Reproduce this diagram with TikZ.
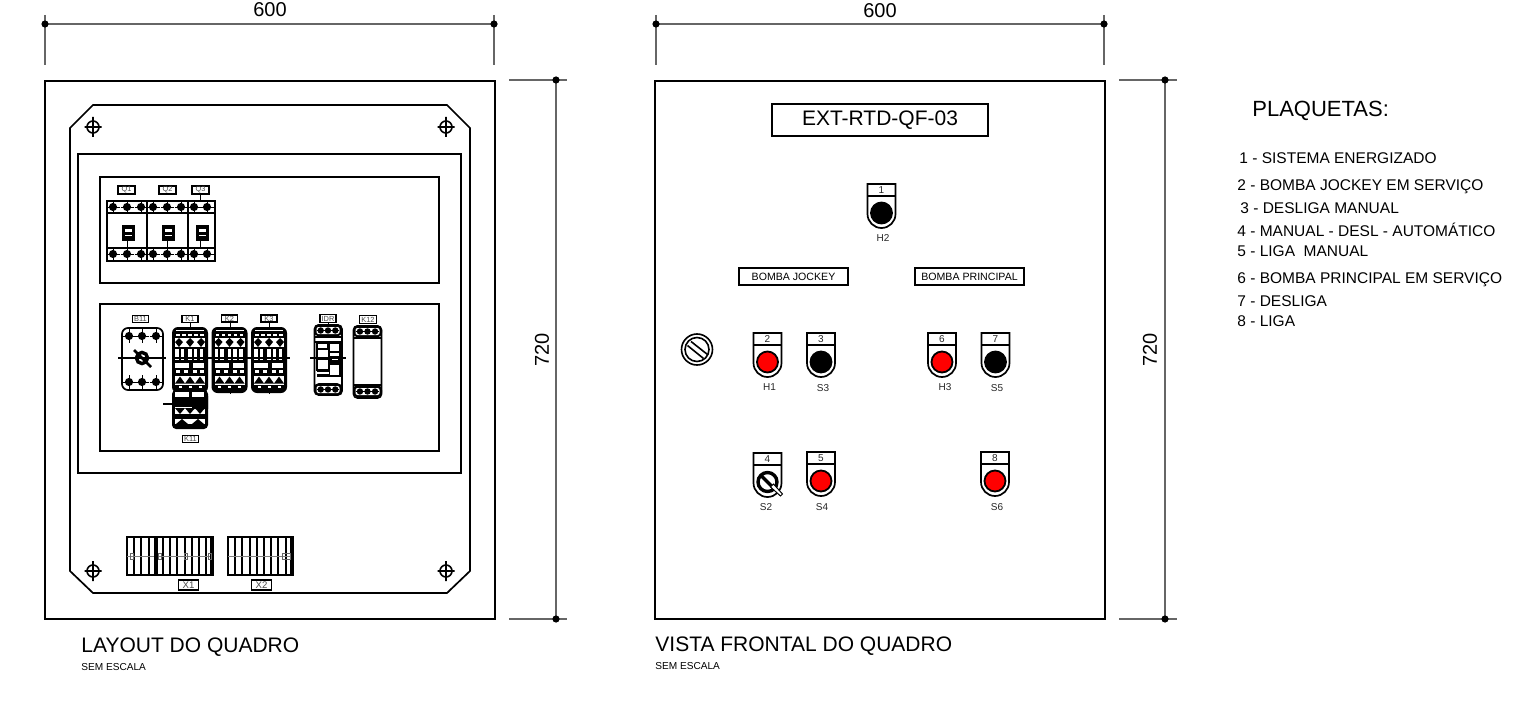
\documentclass[tikz,border=0pt]{standalone}
\usepackage{fontspec}
\setmainfont{Liberation Sans}
\newcommand{\fsz}[1]{\fontsize{#1}{#1}\selectfont}
\tikzset{
  frameline/.style={line width=0.85pt,draw=black},
  thinline/.style={line width=0.55pt,draw=black},
  dimline/.style={line width=0.55pt,draw=black!60},
  dimdot/.style={circle,fill=black,inner sep=0pt,minimum size=3.6pt},
  dimtext/.style={font=\fsz{10},inner sep=0pt},
  tagbox/.style={draw=black,line width=0.7pt,fill=white,inner sep=0pt,font=\fsz{3.7},text=black!70},
  listtext/.style={anchor=west,inner sep=0pt,font=\fsz{7.75}},
  captext/.style={anchor=west,inner sep=0pt,font=\fsz{10.5}},
  smalltext/.style={anchor=west,inner sep=0pt,font=\fsz{5.05}},
  pilottext/.style={inner sep=0pt,font=\fsz{5},text=black!85}
}
% terminal mark
\newcommand{\termmark}[2]{%
  \fill (#1,#2) circle (4.1);
  \draw[line width=0.4pt] (#1,#2-7)--(#1,#2+7) (#1-6.5,#2)--(#1+6.5,#2);}
% pushbutton / lamp: name, centre x, top y, number, kind
\newcommand{\pilotlamp}[5]{%
  \begin{scope}[shift={(#2,#3)}]
  \draw[frameline,fill=white] (-14,0)--(14,0)--(14,30) arc[start angle=0,end angle=180,radius=14]--cycle;
  \draw[thinline,line width=0.8pt] (-14,12)--(14,12);
  \node[pilottext] (#1) at (0,6) {#4};
  \ifx#5r\relax
    \filldraw[draw=black,line width=0.9pt,fill=red] (0,29) circle (10.5);
  \else\ifx#5k\relax
    \filldraw[draw=black,line width=0.9pt,fill=black] (0,29) circle (10.5);
  \else
    \draw[line width=1.7pt] (0,29) circle (9.5);
    \draw[line width=1.6pt] (-7,22)--(6,35);
    \draw[line width=0.5pt,fill=white] (3,34)--(13,43)--(15,41)--(6,31)--cycle;
  \fi\fi
  \end{scope}}
% contactor body
\newcommand{\contactor}[2]{%
  \begin{scope}[shift={(#1,#2)}]
  \fill[rounded corners=3] (0,0) rectangle (36,66);
  \fill[white] (4,2.5) rectangle (32,3.8);
  \foreach \u in {4,10,16,22,28}{ \fill[white] (\u,7) rectangle ++(3.5,1.6); }
  \fill[white] (3,11) rectangle (33,20);
  \foreach \u in {7,18,29}{
    \fill (\u,11) -- ++(4,4) -- ++(-4,5) -- ++(-4,-5) -- cycle;
  }
  \foreach \u in {3,8.5,16,21.5,27.5}{ \fill[white] (\u,22) rectangle ++(3.8,11); }
  \fill[white] (3,36) rectangle (17,40.5);
  \fill[white] (21,36) rectangle (32,40.5);
  \foreach \u in {4,12,21,28}{ \fill[white] (\u,43) rectangle ++(4,3); }
  \fill[white] (3,49) rectangle (33,57.5);
  \foreach \u in {8,18,28}{
    \fill (\u,49.5) -- ++(5,7) -- ++(-10,0) -- cycle;
  }
  \foreach \u in {8,18,28}{ \fill[white] (\u-1.5,59) rectangle ++(3,1.5); }
  \end{scope}}
% DIN-rail module head
\newcommand{\railhead}[3]{%
  \begin{scope}[shift={(#1,#2)}]
  \fill[rounded corners=2.5] (0,0) rectangle (#3,12.5);
  \fill[white,rounded corners=1] (2.5,3) rectangle (#3-2.5,10);
  \foreach \u in {0.24,0.5,0.76}{ \fill (\u*#3,6.5) circle (3.2); }
  \draw[line width=0.3pt] (3,6.5)--(#3-3,6.5);
  \end{scope}}
\begin{document}
\begin{tikzpicture}[x=0.5pt,y=-0.5pt]
\useasboundingbox (0,0) rectangle (1531,701);
% ---------- left panel
\draw[frameline] (45,81) rectangle (495,619);
\draw[frameline] (70,128)--(93,105)--(447,105)--(470,128)--(470,571)--(447,593)--(93,593)--(70,571)--cycle;
\draw[frameline] (78,154) rectangle (461,473);
\draw[frameline] (100,177) rectangle (439,283);
\draw[frameline] (100,304) rectangle (439,451);
\foreach \px/\py in {93/127,446/127,93/571,446/571}{
  \begin{scope}[shift={(\px,\py)}]
  \draw[line width=0.8pt] (0,0) circle (6) (-8.5,0)--(8.5,0) (0,-10)--(0,10);
  \end{scope}}
% breakers
\draw[thinline,line width=0.8pt] (107,201) rectangle (215,261);
\draw[thinline,line width=0.8pt] (147,201)--(147,261) (188,201)--(188,261);
\draw[thinline,line width=1.1pt] (107,213)--(215,213) (107,248)--(215,248);
\foreach \u in {113,127,141,153,167,181,194,207}{\termmark{\u}{207}\termmark{\u}{254}}
\foreach \u/\w in {128/127,168/167,202/200}{
  \fill (\u-6.5,225) rectangle (\u+6.5,241);
  \fill[white] (\u-3.5,228.5) rectangle (\u+3.5,231.5);
  \fill[white] (\u-3.5,234.5) rectangle (\u+3.5,236);
  \draw[line width=0.4pt] (\w,241)--(\w,247);}
\node[tagbox,minimum width=8.5pt,minimum height=4pt] (q1) at (126.5,190) {Q1};
\node[tagbox,minimum width=8.5pt,minimum height=4pt] (q2) at (167.5,190) {Q2};
\node[tagbox,minimum width=8.5pt,minimum height=4pt] (q3) at (200.5,190) {Q3};
\draw[line width=0.35pt] (q3)--(200.5,201);
% rotary isolator B11
\draw[frameline,rounded corners=3] (122,328) rectangle (163,390);
\foreach \u in {129,142,156}{\termmark{\u}{336}\termmark{\u}{382}}
\draw[thinline,line width=0.7pt] (118,358)--(166,358);
\draw[line width=1.7pt] (142,358) circle (5.6);
\draw[line width=1.4pt] (134,350)--(151,367);
\node[tagbox,minimum width=8pt,minimum height=3.6pt] (b11) at (140.5,319) {B11};
% contactors
\contactor{172}{327}
\contactor{211.5}{327}
\contactor{251}{327}
\begin{scope}[shift={(172,393)}]
  \fill[rounded corners=2] (0,-3) rectangle (36,36);
  \fill[white] (3,-1.5) rectangle (17,4);
  \fill[white] (20,-1.5) rectangle (32,4);
  \fill[white] (3,14) rectangle (33,21);
  \foreach \u in {8,18,28}{
    \fill (\u,21) -- ++(5,-6) -- ++(-10,0) -- cycle;}
  \fill[white] (3,26) rectangle (33,31);
  \foreach \u in {10,26}{\fill (\u,26) -- ++(6,5) -- ++(-12,0) -- cycle;}
\end{scope}
\draw[line width=0.75pt] (172,358)--(290,358);
\draw[line width=1.1pt] (163,404)--(208,404);
\fill (192,404) -- (200,398) -- (208,396) -- (208,409) -- (192,409) -- cycle;
\foreach \u in {190,230,269}{\draw[line width=0.4pt] (\u,322)--(\u,330) (\u,390)--(\u,394);}
\node[tagbox,minimum width=8pt,minimum height=3.6pt] (k1) at (190,319) {K1};
\node[tagbox,minimum width=8pt,minimum height=3.6pt] (k2) at (229.5,318.5) {K2};
\node[tagbox,minimum width=8pt,minimum height=3.6pt] (k3) at (269,318.5) {K3};
\node[tagbox,minimum width=8pt,minimum height=3.6pt] (k11) at (190.5,439) {K11};
% IDR
\draw[frameline,line width=0.8pt,rounded corners=2] (314.5,325) rectangle (342,395);
\railhead{314}{324}{28}
\railhead{314}{383}{28}
\draw[thinline] (315,337)--(341,337);
\draw[line width=0.8pt] (315,342)--(341,342);
\draw[line width=0.6pt] (317,343) rectangle (328,349) (317,349) rectangle (329,359);
\draw[line width=0.7pt] (329,343) rectangle (340,352) (329,352) rectangle (340,364) (329,364) rectangle (340,376);
\fill (330,356) rectangle (340,364);
\fill[white] (332,358) rectangle (338,360);
\draw[line width=0.6pt] (317,359) rectangle (329,370);
\fill (317,370) rectangle (329,377);
\fill[white] (317,372) rectangle (329,373.5);
\draw[line width=0.6pt] (310,358)--(346,358);
\node[tagbox,minimum width=8pt,minimum height=3.8pt] (idr) at (328,318.5) {IDR};
\draw[line width=0.35pt] (idr)--(328,325);
% K12
\draw[frameline,rounded corners=2] (353.5,326) rectangle (381.5,398);
\railhead{353}{325}{29}
\railhead{353}{385}{29}
\draw[line width=0.8pt] (353.5,338)--(381.5,338) (353.5,385)--(381.5,385);
\node[tagbox,minimum width=8.5pt,minimum height=3.8pt] (k12) at (368,319.5) {K12};
% terminal blocks
\foreach \n/\xs in {12/127,9/228}{
  \foreach \i in {0,...,\n}{
    \draw[line width=1pt] ({\xs+\i*7.2},537)--({\xs+\i*7.2},575);
  }
  \draw[line width=1pt] (\xs,537) rectangle ({\xs+\n*7.2},575);
  \draw[line width=0.3pt,draw=black!50] (\xs,556)--({\xs+\n*7.2},556);
}
\draw[line width=1.7pt] (156,537)--(156,575) (212,537)--(212,575);
\draw[line width=1.7pt] (292,537)--(292,575);
\draw[line width=0.4pt,draw=black!60] (130,553) rectangle (133,559) (158,553) rectangle (161,559) (184,553) rectangle (187,559) (208,553) rectangle (211,559) (282,553) rectangle (290,559);
\node[tagbox,minimum width=9.8pt,minimum height=5pt,font=\fsz{4.8}] (x1) at (188.5,585) {X1};
\node[tagbox,minimum width=9.8pt,minimum height=5pt,font=\fsz{4.8}] (x2) at (261.5,585) {X2};
% ---------- right panel
\draw[frameline] (655,81) rectangle (1105,619);
\node[draw=black,line width=0.9pt,minimum width=108pt,minimum height=16pt,inner sep=0pt,font=\fsz{10.5}] (title) at (880,120) {EXT-RTD-QF-03};
\pilotlamp{n1}{881.5}{184}{1}{k}
\pilotlamp{n2}{767.5}{333}{2}{r}
\pilotlamp{n3}{821}{333}{3}{k}
\pilotlamp{n4}{767.5}{453}{4}{s}
\pilotlamp{n5}{821}{452}{5}{r}
\pilotlamp{n6}{942}{333}{6}{r}
\pilotlamp{n7}{995.5}{333}{7}{k}
\pilotlamp{n8}{995}{452}{8}{r}
\node[pilottext] (h2) at (883,238) {H2};
\node[pilottext] (h1) at (769.5,387) {H1};
\node[pilottext] (s3) at (823,388) {S3};
\node[pilottext] (h3) at (945,387) {H3};
\node[pilottext] (s5) at (997,388) {S5};
\node[pilottext] (s2) at (766,507) {S2};
\node[pilottext] (s4) at (822,507) {S4};
\node[pilottext] (s6) at (997,507) {S6};
\node[draw=black,line width=0.6pt,minimum width=54.5pt,minimum height=8.5pt,inner sep=0pt,font=\fsz{5.3}] (bj) at (793.5,276.5) {BOMBA JOCKEY};
\node[draw=black,line width=0.6pt,minimum width=54.5pt,minimum height=8.5pt,inner sep=0pt,font=\fsz{5.3}] (bp) at (969.5,276.5) {BOMBA PRINCIPAL};
% lamp
\draw[line width=0.8pt] (697,349.5) circle (15.5) (697,349.5) circle (12);
\draw[line width=0.8pt] (691,341.5)--(707.5,354.5) (687.5,345.5)--(703.5,358.5);
% ---------- dimensions
\coordinate (a1) at (45,24); \coordinate (a2) at (494,24);
\coordinate (b1) at (656,24); \coordinate (b2) at (1104,24);
\coordinate (c1) at (556,80); \coordinate (c2) at (556,619);
\coordinate (d1) at (1165,80); \coordinate (d2) at (1165,619);
\draw[dimline] (a1)--(a2) (b1)--(b2) (c1)--(c2) (d1)--(d2);
\draw[dimline] (45,15)--(45,65) (494,15)--(494,65) (656,15)--(656,65) (1104,15)--(1104,65);
\draw[dimline] (509,80)--(567,80) (509,619)--(567,619) (1119,80)--(1177,80) (1119,619)--(1177,619);
\foreach \c in {a1,a2,b1,b2,c1,c2,d1,d2}{\node[dimdot] at (\c) {};}
\node[dimtext] (w1) at (270,10) {600};
\node[dimtext] (w2) at (880,11) {600};
\node[dimtext,rotate=90] (h720a) at (542,350) {720};
\node[dimtext,rotate=90] (h720b) at (1150,350) {720};
% ---------- texts
\node[captext] (cap1) at (81,647) {LAYOUT DO QUADRO};
\node[smalltext] (sub1) at (81,667) {SEM ESCALA};
\node[captext] (cap2) at (655,646) {VISTA FRONTAL DO QUADRO};
\node[smalltext] (sub2) at (655,666) {SEM ESCALA};
\node[captext,font=\fsz{11}] (plq) at (1252,111) {PLAQUETAS:};
\node[listtext] (l1) at (1239,158) {1 - SISTEMA ENERGIZADO};
\node[listtext] (l2) at (1237,187) {2 - BOMBA JOCKEY EM SERVIÇO};
\node[listtext] (l3) at (1240,208) {3 - DESLIGA MANUAL};
\node[listtext] (l4) at (1237,230) {4 - MANUAL - DESL - AUTOMÁTICO};
\node[listtext] (l5) at (1237,251) {5 - LIGA\ \ MANUAL};
\node[listtext] (l6) at (1237,280) {6 - BOMBA PRINCIPAL EM SERVIÇO};
\node[listtext] (l7) at (1237,301) {7 - DESLIGA};
\node[listtext] (l8) at (1237,321) {8 - LIGA};
\end{tikzpicture}
\end{document}
